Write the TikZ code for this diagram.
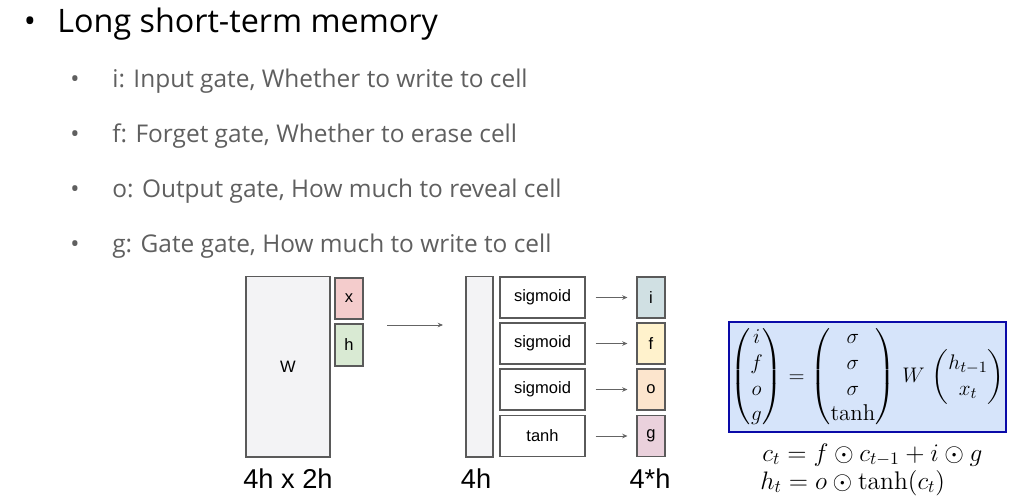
\documentclass[tikz,border=0pt]{standalone}
\usepackage{amsmath,amssymb}
\usepackage{fontspec}
\newfontfamily\slidefont{Open Sans}
\newfontfamily\arialfont{Liberation Sans}
\usetikzlibrary{arrows.meta,positioning}
\definecolor{boxgrey}{RGB}{90,90,90}
\definecolor{arrowgrey}{RGB}{100,100,100}
\definecolor{itemgrey}{RGB}{95,95,95}
\definecolor{matfill}{RGB}{243,243,245}
\definecolor{xfill}{RGB}{244,204,204}
\definecolor{hfill}{RGB}{217,234,211}
\definecolor{ifill}{RGB}{208,224,227}
\definecolor{ffill}{RGB}{255,242,204}
\definecolor{ofill}{RGB}{252,229,205}
\definecolor{gfill}{RGB}{234,209,220}
\definecolor{formfill}{RGB}{214,228,250}
\definecolor{formblue}{RGB}{10,10,168}

\begin{document}
\begin{tikzpicture}[x=0.02cm, y=-0.02cm,
    box/.style={draw=boxgrey, line width=0.6pt, inner sep=0pt,
      font=\arialfont\fontsize{9.4}{11}\selectfont},
    gatebox/.style={box, fill=white, minimum width=1.70cm, minimum height=0.82cm},
    outbox/.style={box, minimum width=0.56cm, minimum height=0.82cm},
    flow/.style={draw=arrowgrey, line width=0.5pt, -{Stealth[length=3pt,width=2.6pt]}},
    dimlabel/.style={anchor=base, inner sep=0pt, font=\arialfont\fontsize{15.5}{18}\selectfont}]
    \useasboundingbox (0,0) rectangle (1030,498);

    %, Bullets ---
    \node[anchor=base, inner sep=0pt, font=\slidefont\fontsize{18.4}{22}\selectfont] (topdot) at (30,32) {•};
    \node[anchor=base west, inner sep=0pt, font=\slidefont\fontsize{18.4}{22}\selectfont] (title) at (57,32) {Long short-term memory};
    \foreach \yy/\txt [count=\i] in {87/{i: Input gate, Whether to write to cell},
                                     142/{f: Forget gate, Whether to erase cell},
                                     197/{o: Output gate, How much to reveal cell},
                                     252/{g: Gate gate, How much to write to cell}} {
        \node[anchor=base, inner sep=0pt, text=itemgrey, font=\slidefont\fontsize{13.9}{16}\selectfont] (dot\i) at (75,\yy) {•};
        \node[anchor=base west, inner sep=0pt, text=itemgrey, font=\slidefont\fontsize{13.9}{16}\selectfont] (item\i) at (112,\yy) {\txt};
    }

    %, Left: W times (x,h) ---
    \node[box, fill=matfill, minimum width=1.68cm, minimum height=3.62cm] (W) at (288,366.5) {W};
    \node[outbox, fill=xfill] (xin) at (349,298.5) {x};
    \node[outbox, fill=hfill, minimum height=0.84cm] (hin) at (349,345) {h};
    \node[dimlabel] (Wdim) at (288,488) {4h x 2h};
    \coordinate (mulin) at (387,325);
    \coordinate (mulout) at (443,325);
    \draw[flow] (mulin) -- (mulout);

    %, Middle: 4h column and activations ---
    \node[box, fill=matfill, minimum width=0.54cm, minimum height=3.62cm] (col) at (479.5,366.5) {};
    \node[dimlabel] (coldim) at (476,488) {4h};
    \foreach \yy/\act/\g/\gcol [count=\i] in {297.5/sigmoid/i/ifill, 343.5/sigmoid/f/ffill,
                                               389.5/sigmoid/o/ofill, 436/tanh/g/gfill} {
        \node[gatebox] (act\i) at (542.5,\yy) {\act};
        \node[outbox, fill=\gcol] (gate\i) at (651,\yy) {\g};
        \draw[flow, shorten <=0.2cm, shorten >=0.18cm] (act\i) -- (gate\i);
    }
    \node[dimlabel] (gatedim) at (650,488) {4*h};

    %, Right: equations ---
    \node[draw=formblue, line width=1.5pt, fill=formfill, minimum width=5.54cm, minimum height=2.2cm,
          inner sep=0pt, font=\fontsize{13}{14.7}\selectfont] (form) at (867.5,377)
        {$\begin{pmatrix} i\\ f\\ o\\ g \end{pmatrix} = \begin{pmatrix} \sigma\\ \sigma\\ \sigma\\ \tanh \end{pmatrix}
          \, W \, \begin{pmatrix} h_{t-1}\\ x_t \end{pmatrix}$};
    \node[anchor=base west, inner sep=0pt, font=\fontsize{14.5}{17}\selectfont] (ceq) at (762,461)
        {$c_t = f \odot c_{t-1} + i \odot g$};
    \node[anchor=base west, inner sep=0pt, font=\fontsize{14.5}{17}\selectfont] (heq) at (760,489)
        {$h_t = o \odot \tanh(c_t)$};
\end{tikzpicture}
\end{document}
